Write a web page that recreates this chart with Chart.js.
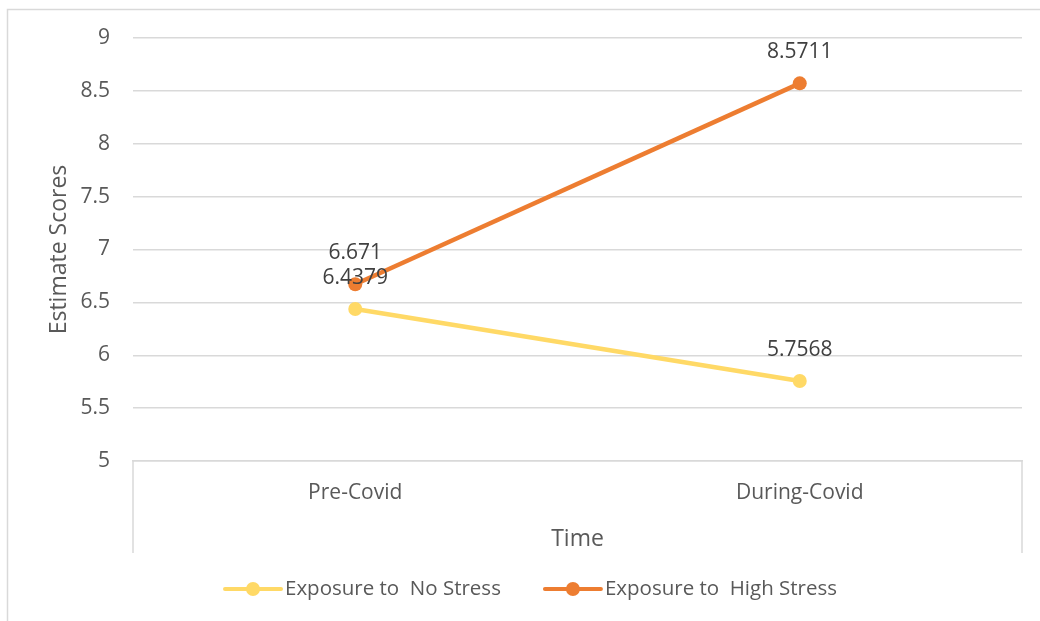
<!DOCTYPE html>
<html>
<head>
<meta charset="utf-8">
<script src="https://cdn.jsdelivr.net/npm/chart.js@4/dist/chart.umd.min.js"></script>
<style>
  html, body { margin: 0; padding: 0; background: #ffffff; }
  #wrap { position: relative; width: 1040px; height: 621px; }
</style>
</head>
<body>
<div id="wrap"><canvas id="chart"></canvas></div>
<script>
// Categories and series
const categories = ['Pre-Covid', 'During-Covid'];
const noStress = [6.4379, 5.7568];
const highStress = [6.671, 8.5711];
const seriesNames = ['Exposure to  No Stress', 'Exposure to  High Stress'];
const yTicks = [5, 5.5, 6, 6.5, 7, 7.5, 8, 8.5, 9];

const TEXT = '#595959';
const GRID = '#d9d9d9';
const FONT = "'Open Sans', sans-serif";
const YELLOW = '#ffd966';
const ORANGE = '#ed7d31';

// Outer frame of the chart
const framePlugin = {
  id: 'frame',
  beforeDraw(chart) {
    const ctx = chart.ctx;
    ctx.save();
    ctx.strokeStyle = GRID;
    ctx.lineWidth = 1.5;
    ctx.beginPath();
    ctx.moveTo(7.5, chart.height);
    ctx.lineTo(7.5, 9.5);
    ctx.lineTo(chart.width, 9.5);
    ctx.stroke();
    ctx.restore();
  }
};

// Side walls of the category axis box
const axisBoxPlugin = {
  id: 'axisBox',
  afterDraw(chart) {
    const x = chart.scales.x;
    const ctx = chart.ctx;
    ctx.save();
    ctx.strokeStyle = GRID;
    ctx.lineWidth = 1.5;
    ctx.beginPath();
    ctx.moveTo(x.left, x.top);
    ctx.lineTo(x.left, x.bottom);
    ctx.moveTo(x.right, x.top);
    ctx.lineTo(x.right, x.bottom);
    ctx.stroke();
    ctx.restore();
  }
};

// Value labels above each point
const valueLabelPlugin = {
  id: 'valueLabels',
  afterDatasetsDraw(chart) {
    const ctx = chart.ctx;
    ctx.save();
    ctx.font = '21px ' + FONT;
    ctx.fillStyle = '#404040';
    ctx.textAlign = 'center';
    ctx.textBaseline = 'middle';
    chart.data.datasets.forEach((ds, i) => {
      const meta = chart.getDatasetMeta(i);
      meta.data.forEach((pt, j) => {
        ctx.fillText(String(ds.data[j]), pt.x, pt.y - 31);
      });
    });
    ctx.restore();
  }
};

// Legend with line-and-marker swatches
const legendPlugin = {
  id: 'lineLegend',
  afterDraw(chart) {
    const ctx = chart.ctx;
    ctx.save();
    ctx.font = '20.5px ' + FONT;
    ctx.textBaseline = 'middle';
    ctx.textAlign = 'left';
    const y = 589;
    let x = 225;
    chart.data.datasets.forEach((ds, i) => {
      ctx.strokeStyle = ds.borderColor;
      ctx.lineWidth = 4;
      ctx.lineCap = 'round';
      ctx.beginPath();
      ctx.moveTo(x, y);
      ctx.lineTo(x + 56, y);
      ctx.stroke();
      ctx.fillStyle = ds.borderColor;
      ctx.beginPath();
      ctx.arc(x + 28, y, 7, 0, Math.PI * 2);
      ctx.fill();
      ctx.fillStyle = TEXT;
      ctx.fillText(ds.label, x + 60, y);
      x += 60 + ctx.measureText(ds.label).width + 44;
    });
    ctx.restore();
  }
};

new Chart(document.getElementById('chart'), {
  type: 'line',
  data: {
    labels: categories,
    datasets: [
      {
        label: seriesNames[0],
        data: noStress,
        borderColor: YELLOW,
        backgroundColor: YELLOW,
        borderWidth: 4.5,
        pointRadius: 7,
        pointHoverRadius: 7,
        pointBorderWidth: 0,
        tension: 0
      },
      {
        label: seriesNames[1],
        data: highStress,
        borderColor: ORANGE,
        backgroundColor: ORANGE,
        borderWidth: 4.5,
        pointRadius: 7,
        pointHoverRadius: 7,
        pointBorderWidth: 0,
        tension: 0
      }
    ]
  },
  options: {
    responsive: true,
    maintainAspectRatio: false,
    animation: false,
    layout: { padding: { left: 8, right: 18, top: 38, bottom: 68 } },
    plugins: {
      legend: { display: false },
      tooltip: { enabled: false }
    },
    scales: {
      x: {
        type: 'category',
        offset: true,
        grid: { display: false, drawTicks: false },
        border: { display: true, color: GRID, width: 1.5 },
        ticks: { color: TEXT, font: { family: FONT, size: 21 }, padding: 19 },
        title: {
          display: true,
          text: 'Time',
          color: TEXT,
          font: { family: FONT, size: 23 },
          padding: { top: 4, bottom: 0 }
        },
        afterFit(scale) { scale.height = 92; }
      },
      y: {
        min: 5,
        max: 9,
        afterBuildTicks(scale) { scale.ticks = yTicks.map(v => ({ value: v })); },
        grid: { color: GRID, lineWidth: 1.5, drawTicks: false },
        border: { display: false },
        ticks: {
          color: TEXT,
          font: { family: FONT, size: 21 },
          padding: 23,
          callback: v => String(v)
        },
        title: {
          display: true,
          text: 'Estimate Scores',
          color: TEXT,
          font: { family: FONT, size: 23 },
          padding: { top: 38, bottom: 4 }
        },
        afterFit(scale) { scale.width = 125; }
      }
    }
  },
  plugins: [framePlugin, axisBoxPlugin, valueLabelPlugin, legendPlugin]
});
</script>
</body>
</html>
